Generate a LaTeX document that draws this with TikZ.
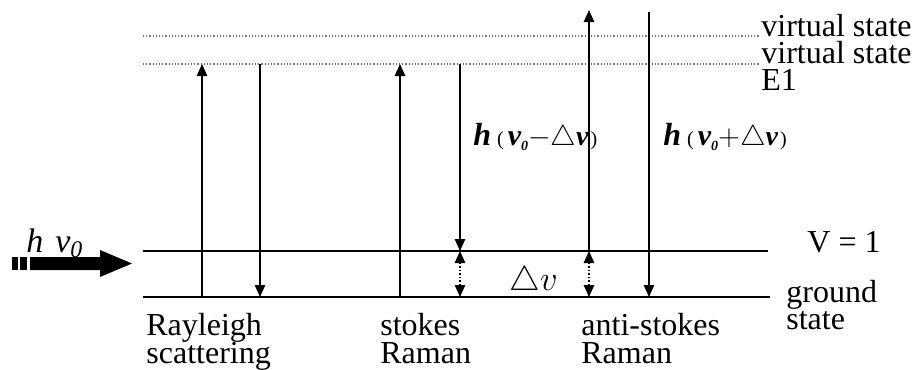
\documentclass[tikz,border=0pt]{standalone}
\usepackage{fontspec}
\setmainfont{Liberation Serif}
\usetikzlibrary{arrows.meta}
\begin{document}
\begin{tikzpicture}[x=0.5pt,y=-0.5pt,
  lvl/.style={line width=0.65pt},
  vsline/.style={black!55, line width=0.6pt, densely dotted},
  trans/.style={line width=0.75pt,-{Triangle[length=6pt,width=5.2pt]}},
  dtrans/.style={line width=0.75pt,densely dotted,{Triangle[length=6pt,width=5.2pt]}-{Triangle[length=6pt,width=5.2pt]}},
  lbl/.style={font=\fontsize{16}{16}\selectfont, inner sep=0pt, anchor=base west, text height=0.68em, text depth=0.18em},
  elbl/.style={inner sep=0pt, anchor=base west}]
\useasboundingbox (0,0) rectangle (912,370);
% level end points
\coordinate (vsAl) at (143,36); \coordinate (vsAr) at (760,36);
\coordinate (vsBl) at (143,64); \coordinate (vsBr) at (760,64);
\coordinate (v1l) at (143,251); \coordinate (v1r) at (768,251);
\coordinate (gl) at (143,297); \coordinate (gr) at (770,297);
\draw[vsline] (vsAl) -- (vsAr);
\draw[vsline] (vsBl) -- (vsBr);
\draw[lvl] (v1l) -- (v1r);
\draw[lvl] (gl) -- (gr);
% transition end points
\coordinate (ra0) at (202,297); \coordinate (ra1) at (202,64);
\coordinate (rb0) at (260,64);  \coordinate (rb1) at (260,297);
\coordinate (sa0) at (400,297); \coordinate (sa1) at (400,64);
\coordinate (sb0) at (460,64);  \coordinate (sb1) at (460,251);
\coordinate (sd0) at (460,251); \coordinate (sd1) at (460,297);
\coordinate (aa0) at (589,251); \coordinate (aa1) at (589,10);
\coordinate (ad0) at (589,251); \coordinate (ad1) at (589,297);
\coordinate (ab0) at (649,12);  \coordinate (ab1) at (649,297);
\draw[trans] (ra0) -- (ra1);
\draw[trans] (rb0) -- (rb1);
\draw[trans] (sa0) -- (sa1);
\draw[trans] (sb0) -- (sb1);
\draw[dtrans] (sd0) -- (sd1);
\draw[trans] (aa0) -- (aa1);
\draw[dtrans] (ad0) -- (ad1);
\draw[trans] (ab0) -- (ab1);
% right labels
\node[lbl] (vsA) at (761,36) {virtual state};
\node[lbl] (vsB) at (761,63) {virtual state};
\node[lbl] (e1) at (761,90) {E1};
\node[lbl] (v1) at (807,252) {V = 1};
\node[lbl] (gs1) at (786,302) {ground};
\node[lbl] (gs2) at (786,329) {state};
% bottom labels
\node[lbl] (ray1) at (146,335) {Rayleigh};
\node[lbl] (ray2) at (146,363) {scattering};
\node[lbl] (st1) at (380,335) {stokes};
\node[lbl] (st2) at (380,363) {Raman};
\node[lbl] (as1) at (581,335) {anti-stokes};
\node[lbl] (as2) at (581,363) {Raman};
% energy labels
\node[elbl] (hm) at (473,145) {{\fontsize{16}{16}\selectfont\bfseries\itshape h}\hspace{3pt}{\fontsize{10}{10}\selectfont (}\hspace{2pt}{\fontsize{15}{15}\selectfont\bfseries\itshape v\raisebox{-2.5pt}{\fontsize{7}{7}\selectfont 0}}{\fontsize{14}{14}\selectfont$-\triangle$\bfseries\itshape v}\hspace{1pt}{\fontsize{10}{10}\selectfont )}};
\node[elbl] (hp) at (663,145) {{\fontsize{16}{16}\selectfont\bfseries\itshape h}\hspace{3pt}{\fontsize{10}{10}\selectfont (}\hspace{2pt}{\fontsize{15}{15}\selectfont\bfseries\itshape v\raisebox{-2.5pt}{\fontsize{7}{7}\selectfont 0}}{\fontsize{14}{14}\selectfont$+\triangle$\bfseries\itshape v}\hspace{1pt}{\fontsize{10}{10}\selectfont )}};
\node[elbl] (dv) at (509,290) {\fontsize{16}{16}\selectfont$\triangle v$};
% incoming photon
\node[elbl] (hv) at (26,252) {\fontsize{17}{17}\selectfont\itshape h\hspace{6pt}v\textsubscript{0}};
\fill (12,257) rectangle (18,270);
\fill (20,257) rectangle (27,270);
\fill (30,257) -- (100,257) -- (100,250) -- (132,263.5) -- (100,277) -- (100,270) -- (30,270) -- cycle;
\end{tikzpicture}
\end{document}
